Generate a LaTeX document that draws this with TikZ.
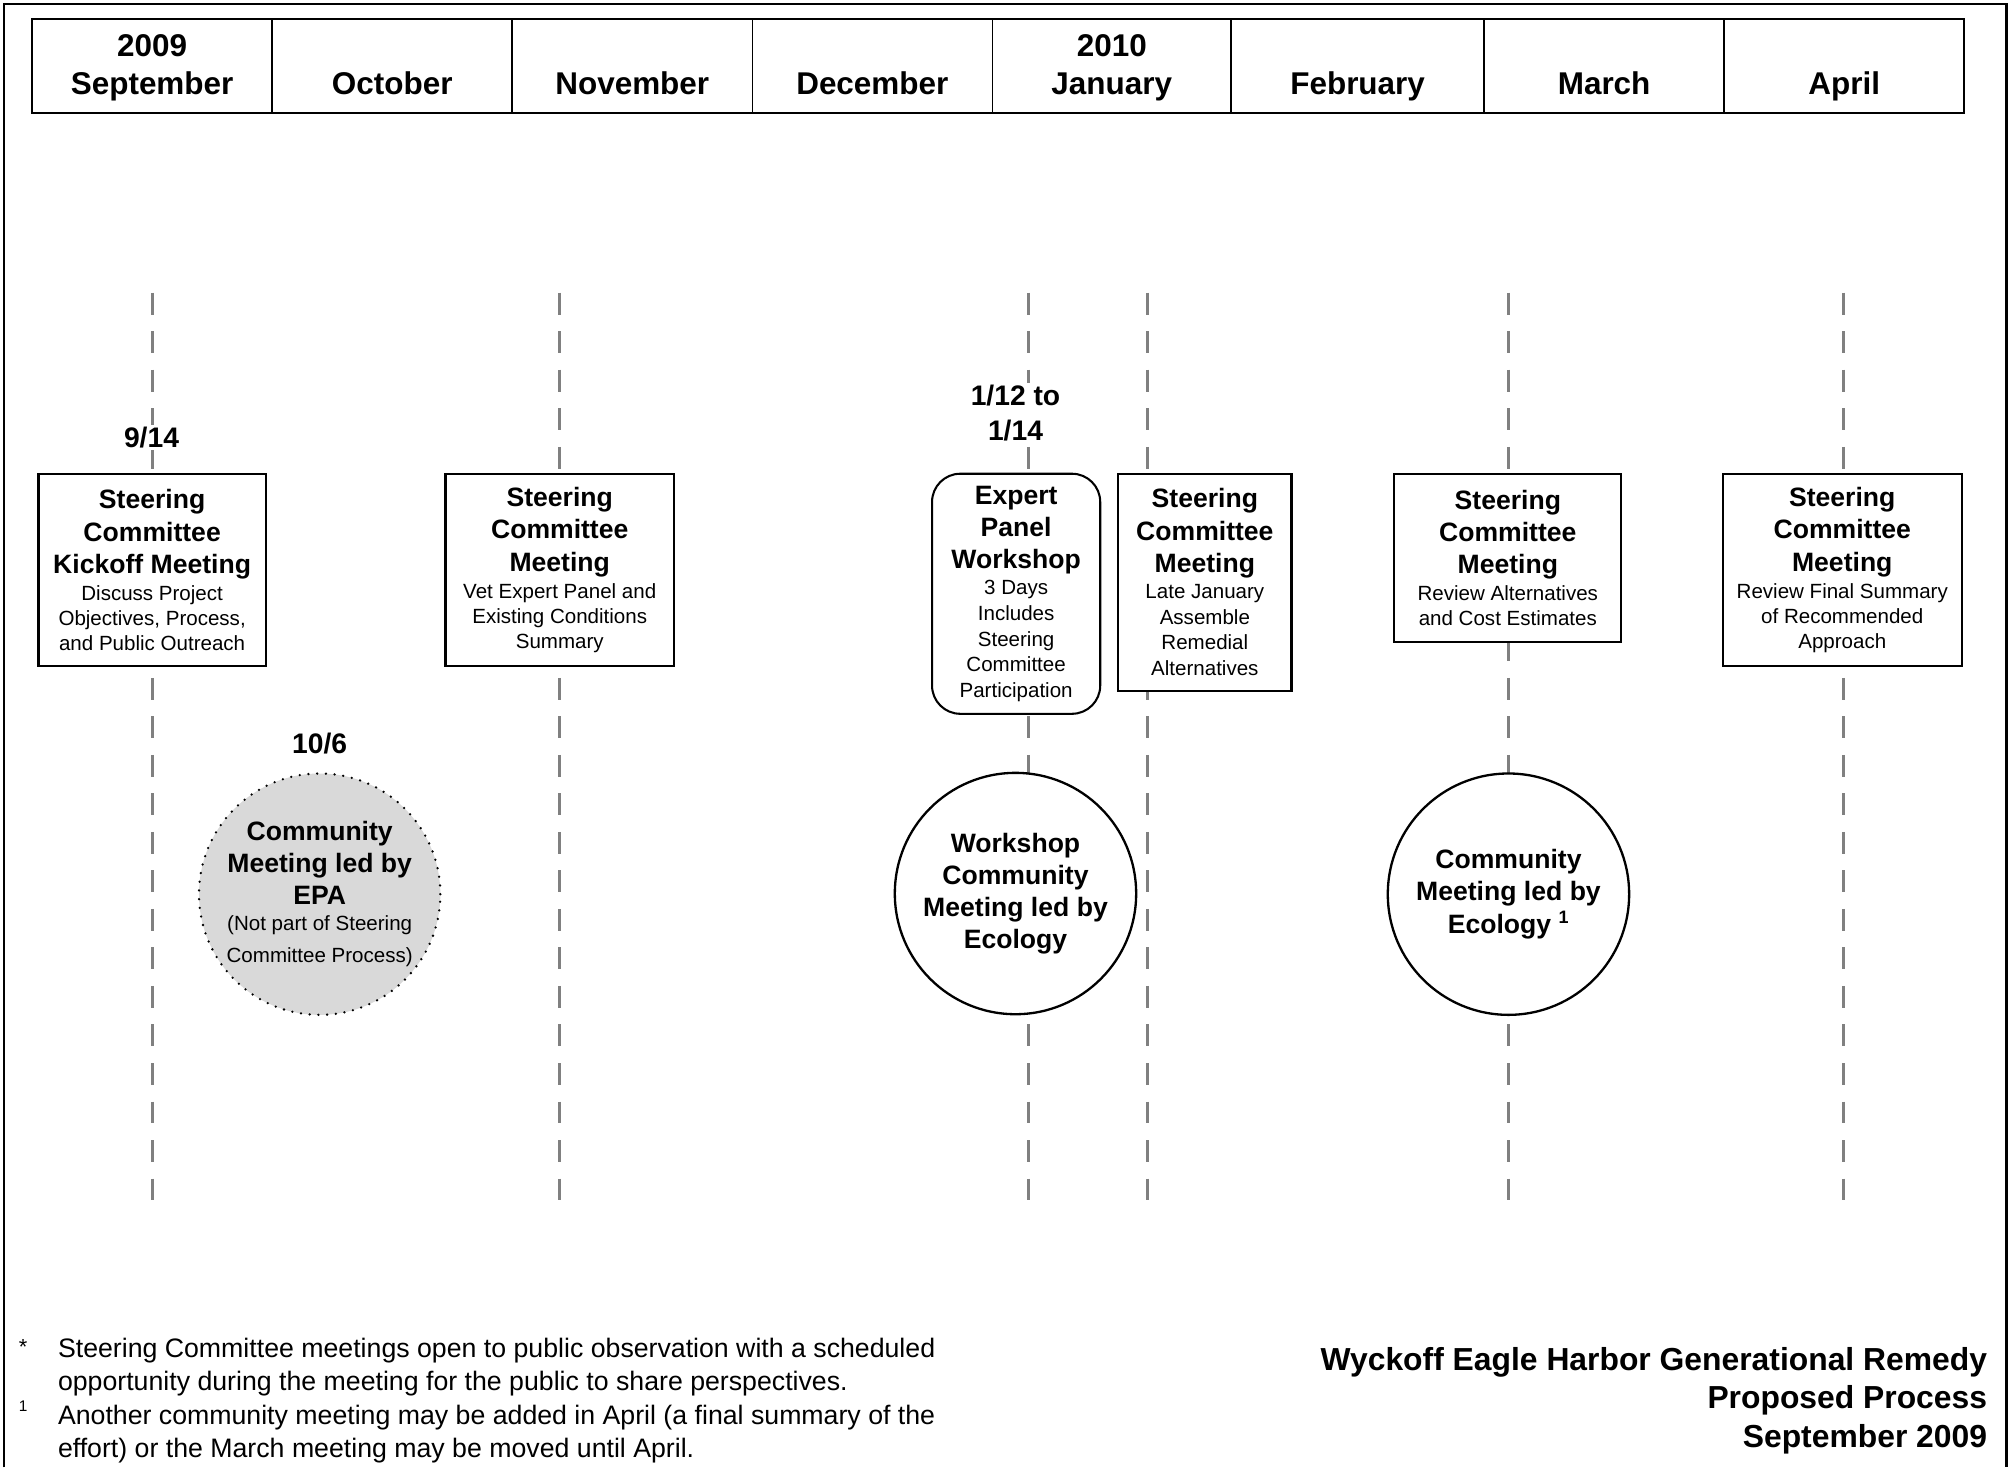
\documentclass[tikz,border=0pt]{standalone}
\usepackage{fontspec}
\setmainfont{Liberation Sans}
\newcommand{\tfont}{\fontsize{20.7}{25}\selectfont\bfseries}
\newcommand{\dfont}{\fontsize{16}{19.5}\selectfont\mdseries}
\newcommand{\dfontw}{\fontsize{16}{20}\selectfont\mdseries}
\begin{document}
\begin{tikzpicture}[x=1pt,y=-1pt,
  timeline/.style={draw=black!50, line width=2pt, dash pattern=on 17pt off 13pt},
  evbox/.style={draw, line width=1.6pt, fill=white, align=flush center, inner xsep=2pt, inner ysep=0pt, font=\tfont},
  datelbl/.style={font=\fontsize{22}{27}\selectfont\bfseries, fill=white, inner sep=1.5pt, align=center},
  circ/.style={circle, draw, line width=1.8pt, fill=white, minimum size=188pt, inner sep=-25pt, align=flush center, font=\tfont},
  month/.style={font=\fontsize{24.5}{30}\selectfont\bfseries, anchor=base, inner sep=0pt},
  fnote/.style={font=\fontsize{20.8}{26}\selectfont, align=left, inner sep=0pt, anchor=north west}
]
\useasboundingbox (0,0) rectangle (1568,1143);
% outer frame
\draw[line width=1.8pt] (3,1143) -- (3,3) -- (1563,3) -- (1563,1143);
% header table
\draw[line width=1.4pt] (25,15) rectangle (1530,88);
\foreach \xx in {212,399,586,773,959,1156,1343}
  \draw[line width=1.2pt] (\xx,15) -- (\xx,88);
\node[month] (y2009) at (118.5,43.8) {2009};
\node[month] (sep) at (118.5,73.8) {September};
\node[month] (oct) at (305.5,73.8) {October};
\node[month] (nov) at (492.5,73.8) {November};
\node[month] (dec) at (679.5,73.8) {December};
\node[month] (y2010) at (866,43.8) {2010};
\node[month] (jan) at (866,73.8) {January};
\node[month] (feb) at (1057.5,73.8) {February};
\node[month] (mar) at (1249.5,73.8) {March};
\node[month] (apr) at (1436.5,73.8) {April};
% timelines
\coordinate (t1) at (119,228);  \coordinate (b1) at (119,935);
\coordinate (t2) at (436,228);  \coordinate (b2) at (436,935);
\coordinate (t3) at (801,228);  \coordinate (b3) at (801,935);
\coordinate (t4) at (894,228);  \coordinate (b4) at (894,935);
\coordinate (t5) at (1175,228); \coordinate (b5) at (1175,935);
\coordinate (t6) at (1436,228); \coordinate (b6) at (1436,935);
\draw[timeline] (t1) -- (b1);
\draw[timeline] (t2) -- (b2);
\draw[timeline] (t3) -- (b3);
\draw[timeline] (t4) -- (b4);
\draw[timeline] (t5) -- (b5);
\draw[timeline] (t6) -- (b6);
% date labels
\node[datelbl] (d914) at (118,341) {9/14};
\node[datelbl] (d106) at (249,579) {10/6};
\node[datelbl] (d112) at (791,321.5) {1/12 to\\1/14};
% boxes
\node[evbox, text width=173pt, minimum height=150pt] (kick) at (118.5,444)
  {Steering\\Committee\\Kickoff Meeting\par\vspace{1.5pt}\dfont Discuss Project\\Objectives, Process,\\and Public Outreach\par};
\node[evbox, text width=174pt, minimum height=150pt] (novm) at (436,444)
  {Steering\\Committee\\Meeting\par\vspace{1.5pt}\dfont Vet Expert Panel and\\Existing Conditions\\Summary\par};
\node[evbox, rounded corners=22pt, text width=127pt, minimum height=187pt] (expert) at (791.5,462.5)
  {Expert\\Panel\\Workshop\par\vspace{0.5pt}\dfontw 3 Days\\Includes\\Steering\\Committee\\Participation\par};
\node[evbox, text width=131pt, minimum height=169pt] (janm) at (938.5,453.5)
  {Steering\\Committee\\Meeting\par\vspace{0.5pt}\dfontw Late January\\Assemble\\Remedial\\Alternatives\par};
\node[evbox, text width=173pt, minimum height=131pt] (marm) at (1174.5,434.5)
  {Steering\\Committee\\Meeting\par\vspace{1.5pt}\dfont Review Alternatives\\and Cost Estimates\par};
\node[evbox, text width=182pt, minimum height=150pt] (aprm) at (1435,444)
  {Steering\\Committee\\Meeting\par\vspace{1.5pt}\dfont Review Final Summary\\of Recommended\\Approach\par};
% circles
\node[circ, fill=black!15, draw=black, dash pattern=on 0pt off 6.8pt, line cap=round, line width=2pt, text width=160pt] (epa) at (249,696.5)
  {Community\\Meeting led by\\EPA\par\vspace{-4.5pt}\fontsize{16}{25}\selectfont\mdseries (Not part of Steering\\Committee Process)\par};
\node[circ, text width=160pt] (wcm) at (791,696)
  {Workshop\\Community\\Meeting led by\\Ecology\par};
\node[circ, text width=160pt] (ecm) at (1175,696.5)
  {Community\\Meeting led by\\Ecology \textsuperscript{\fontsize{14}{14}\selectfont 1}\par};
% footnotes
\node[font=\fontsize{17}{17}\selectfont, inner sep=0pt] (star) at (18,1049) {*};
\node[font=\fontsize{12}{12}\selectfont, inner sep=0pt] (one) at (18,1095) {1};
\node[fnote] (fn1) at (45,1042) {Steering Committee meetings open to public observation with a scheduled\\opportunity during the meeting for the public to share perspectives.};
\node[fnote] (fn2) at (45,1094) {Another community meeting may be added in April (a final summary of the\\effort) or the March meeting may be moved until April.};
% title
\node[anchor=north east, align=right, inner sep=0pt, font=\fontsize{24.8}{30}\selectfont\bfseries] (title) at (1548,1049)
  {Wyckoff Eagle Harbor Generational Remedy\\Proposed Process\\September 2009};
\end{tikzpicture}
\end{document}
